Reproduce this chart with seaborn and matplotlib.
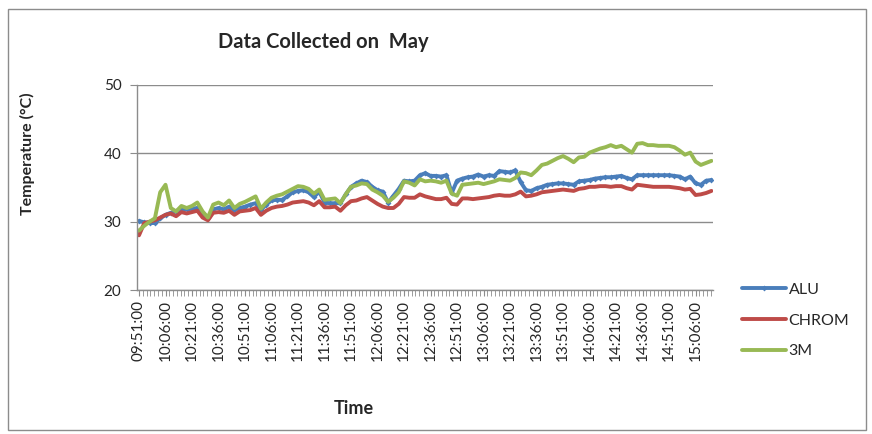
import matplotlib.pyplot as plt
import matplotlib.patches as mpatches
from matplotlib.ticker import FixedLocator, MultipleLocator
import numpy as np
import pandas as pd
import seaborn as sns

# %%
# data: readings every 3 minutes starting at 09:51:00

start_label = "09:51:00"
minutes = np.arange(0, 325, 3)

alu = [
    30.1, 29.9, 29.8, 29.8, 30.5, 31.0, 31.3, 31.5, 31.7, 31.8, 31.9, 32.0, 31.3, 30.5,
    31.8, 32.0, 31.8, 32.2, 31.7, 32.0, 32.2, 32.5, 32.7, 31.7, 32.5, 33.1, 33.2, 33.2,
    33.7, 34.3, 34.5, 34.6, 34.3, 33.6, 34.4, 32.8, 32.7, 32.7, 32.7, 34.0, 35.1, 35.6,
    36.0, 35.8, 35.1, 34.6, 34.4, 32.8, 33.8, 34.8, 36.0, 35.9, 36.0, 36.8, 37.1,
    36.7, 36.7, 36.6, 36.8, 34.2, 36.0, 36.3, 36.5, 36.6, 36.9, 36.6, 36.8, 36.7, 37.4,
    37.3, 37.2, 37.5, 35.8, 34.6, 34.5, 34.9, 35.1, 35.4, 35.5, 35.6, 35.6, 35.5, 35.4,
    35.9, 36.0, 36.1, 36.3, 36.4, 36.5, 36.5, 36.6, 36.7, 36.4, 36.2, 36.8, 36.8, 36.8,
    36.8, 36.8, 36.8, 36.8, 36.7, 36.6, 36.2, 36.6, 35.6, 35.4, 36.0, 36.1,
]
chrom = [
    28.0, 29.8, 30.0, 30.2, 30.6, 31.0, 31.2, 30.8, 31.4, 31.2, 31.4, 31.6, 30.6, 30.2,
    31.3, 31.4, 31.3, 31.6, 31.0, 31.5, 31.6, 31.7, 32.0, 31.0, 31.6, 32.0, 32.2, 32.3,
    32.5, 32.8, 32.9, 33.0, 32.8, 32.4, 33.0, 32.1, 32.1, 32.2, 31.6, 32.4, 33.0, 33.1,
    33.4, 33.6, 33.1, 32.6, 32.2, 32.0, 32.0, 32.6, 33.6, 33.5, 33.5, 34.0, 33.7,
    33.5, 33.3, 33.3, 33.5, 32.6, 32.5, 33.4, 33.4, 33.3, 33.4, 33.5, 33.6, 33.8, 33.9,
    33.8, 33.8, 34.0, 34.4, 33.7, 33.8, 34.0, 34.3, 34.4, 34.5, 34.6, 34.7, 34.6, 34.5,
    34.8, 34.9, 35.1, 35.1, 35.2, 35.2, 35.1, 35.2, 35.2, 34.9, 34.7, 35.4, 35.3, 35.2,
    35.1, 35.1, 35.1, 35.1, 35.0, 34.9, 34.7, 34.8, 33.9, 34.0, 34.2, 34.5,
]
three_m = [
    28.7, 29.4, 30.0, 30.5, 34.3, 35.4, 32.0, 31.5, 32.3, 32.0, 32.3, 32.8, 31.5, 30.6,
    32.5, 32.8, 32.4, 33.1, 32.0, 32.6, 32.9, 33.3, 33.7, 31.9, 32.8, 33.5, 33.8, 34.0,
    34.4, 34.8, 35.2, 35.1, 34.8, 34.1, 34.7, 33.2, 33.3, 33.4, 32.7, 34.0, 35.1, 35.3,
    35.6, 35.5, 34.7, 34.3, 33.8, 32.9, 33.5, 34.3, 35.9, 35.7, 35.3, 36.2, 35.9,
    36.0, 35.9, 35.7, 36.0, 34.1, 33.8, 35.4, 35.5, 35.6, 35.7, 35.5, 35.7, 35.9, 36.2,
    36.1, 36.0, 36.4, 37.2, 37.1, 36.8, 37.5, 38.3, 38.5, 38.9, 39.3, 39.6, 39.2, 38.7,
    39.4, 39.5, 40.1, 40.4, 40.7, 40.9, 41.2, 40.9, 41.1, 40.6, 40.1, 41.4, 41.5, 41.2,
    41.2, 41.1, 41.1, 41.1, 40.9, 40.4, 39.8, 40.1, 38.8, 38.3, 38.6, 38.9,
]

series_names = ["ALU", "CHROM", "3M"]
series_colors = ["#4A7EBB", "#BE4B48", "#98B954"]

tick_minutes = list(range(0, 316, 15))
tick_labels = [
    "09:51:00", "10:06:00", "10:21:00", "10:36:00", "10:51:00", "11:06:00",
    "11:21:00", "11:36:00", "11:51:00", "12:06:00", "12:21:00", "12:36:00",
    "12:51:00", "13:06:00", "13:21:00", "13:36:00", "13:51:00", "14:06:00",
    "14:21:00", "14:36:00", "14:51:00", "15:06:00",
]

df = pd.DataFrame(
    {
        "minutes": np.tile(minutes, 3),
        "temp": alu + chrom + three_m,
        "series": np.repeat(series_names, len(minutes)),
    }
)

# %%
sns.set_style("white")
plt.rcParams["font.family"] = ["Lato", "DejaVu Sans"]

fig = plt.figure(figsize=(8.72, 4.34), dpi=100)
ax = fig.add_axes([136.7 / 872, 1 - 290 / 434, 576 / 872, 205 / 434])

for name, col in zip(series_names, series_colors):
    sub = df[df.series == name]
    sns.lineplot(
        data=sub, x="minutes", y="temp", color=col, lw=2.8, ax=ax, label=name,
        marker="D" if name == "ALU" else None, markersize=3, markeredgewidth=0,
    )

ax.set_xlim(-1.3, 324.7)
ax.set_ylim(20, 50)
ax.set_yticks([20, 30, 40, 50])
ax.yaxis.grid(True, color="#8c8c8c", lw=1)
ax.set_axisbelow(True)

ax.xaxis.set_major_locator(FixedLocator(tick_minutes))
ax.set_xticklabels(tick_labels, rotation=90)
ax.xaxis.set_minor_locator(MultipleLocator(15 / 7))
ax.tick_params(axis="x", which="both", direction="out", length=4, color="#8c8c8c",
               bottom=True, labelsize=11, pad=3)
ax.tick_params(axis="y", direction="out", length=5, color="#8c8c8c", left=True,
               labelsize=11, pad=6)

for side in ["top", "right"]:
    ax.spines[side].set_visible(False)
for side in ["left", "bottom"]:
    ax.spines[side].set_color("#8c8c8c")
    ax.spines[side].set_linewidth(1)

ax.set_xlabel("")
ax.set_ylabel("")
fig.text(27 / 872, 1 - 154 / 434, "Temperature (°C)", rotation=90, ha="center",
         va="center", fontsize=11.5, fontweight="bold")
fig.text(354 / 872, 1 - 408 / 434, "Time", ha="center", va="center",
         fontsize=13, fontweight="bold")
fig.text(323 / 872, 1 - 42 / 434, "Data Collected on  May", ha="center",
         va="center", fontsize=14.5, fontweight="bold")

ax.get_legend().remove()
handles, labels = ax.get_legend_handles_labels()
fig.legend(handles, labels, loc="upper left", bbox_to_anchor=(736 / 872, 1 - 276 / 434),
           frameon=False, fontsize=11.5, handlelength=2.7, labelspacing=1.05,
           handletextpad=0.2, borderaxespad=0)

fig.patches.append(
    mpatches.Rectangle((8 / 872, 1 - 430 / 434), 858 / 872, 421 / 434,
                       transform=fig.transFigure, fill=False, ec="#8c8c8c", lw=1)
)

fig.savefig("out.png", dpi=100)
